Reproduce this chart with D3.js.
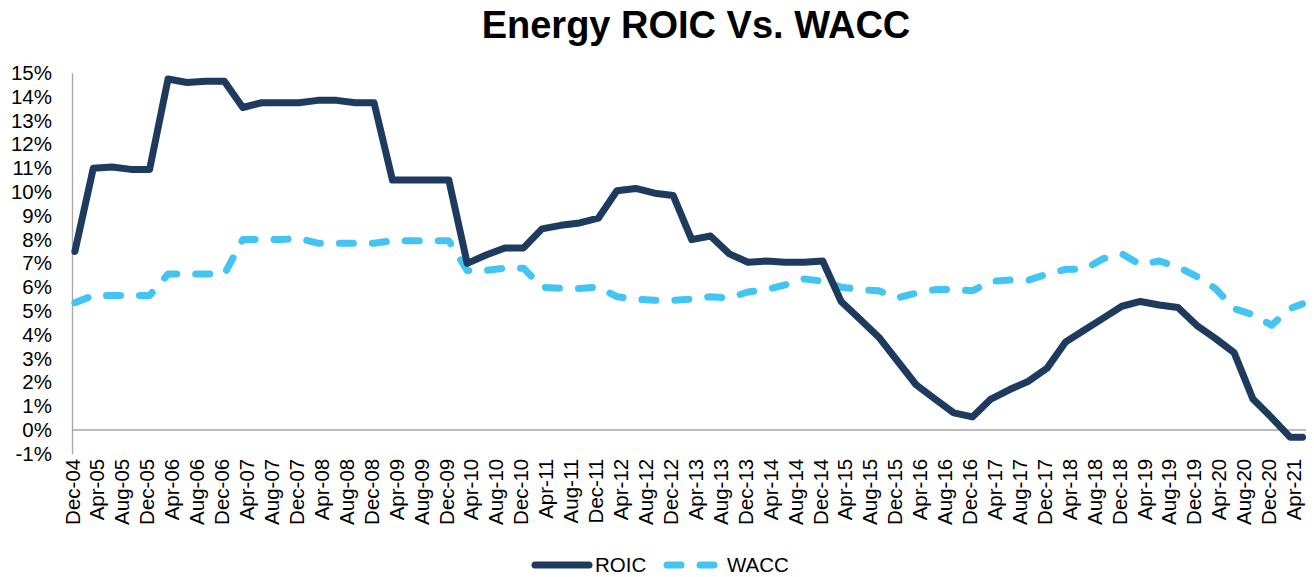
<!DOCTYPE html>
<html>
<head>
<meta charset="utf-8">
<script src="https://cdn.jsdelivr.net/npm/d3@7"></script>
<style>
  body { margin: 0; background: #fff; }
  svg { font-family: "Liberation Sans", Arial, sans-serif; display: block; }
</style>
</head>
<body>
<svg id="chart"></svg>
<script>
// quarterly observations (last one is the latest reading)
const dates = [
  "2004-12-15",
  "2005-03-15", "2005-06-15", "2005-09-15", "2005-12-15",
  "2006-03-15", "2006-06-15", "2006-09-15", "2006-12-15",
  "2007-03-15", "2007-06-15", "2007-09-15", "2007-12-15",
  "2008-03-15", "2008-06-15", "2008-09-15", "2008-12-15",
  "2009-03-15", "2009-06-15", "2009-09-15", "2009-12-15",
  "2010-03-15", "2010-06-15", "2010-09-15", "2010-12-15",
  "2011-03-15", "2011-06-15", "2011-09-15", "2011-12-15",
  "2012-03-15", "2012-06-15", "2012-09-15", "2012-12-15",
  "2013-03-15", "2013-06-15", "2013-09-15", "2013-12-15",
  "2014-03-15", "2014-06-15", "2014-09-15", "2014-12-15",
  "2015-03-15", "2015-06-15", "2015-09-15", "2015-12-15",
  "2016-03-15", "2016-06-15", "2016-09-15", "2016-12-15",
  "2017-03-15", "2017-06-15", "2017-09-15", "2017-12-15",
  "2018-03-15", "2018-06-15", "2018-09-15", "2018-12-15",
  "2019-03-15", "2019-06-15", "2019-09-15", "2019-12-15",
  "2020-03-15", "2020-06-15", "2020-09-15", "2020-12-15",
  "2021-03-15", "2021-05-15"
];

const roic = [
  7.5,
  11.0, 11.05, 10.95, 10.95,
  14.75, 14.6, 14.65, 14.65,
  13.55, 13.75, 13.75, 13.75,
  13.85, 13.85, 13.75, 13.75,
  10.5, 10.5, 10.5, 10.5,
  7.0, 7.35, 7.65, 7.65,
  8.45, 8.6, 8.7, 8.9,
  10.05, 10.15, 9.95, 9.85,
  8.0, 8.15, 7.4, 7.05,
  7.1, 7.05, 7.05, 7.1,
  5.4, 4.65, 3.9, 2.9,
  1.9, 1.3, 0.72, 0.55,
  1.3, 1.7, 2.05, 2.6,
  3.7, 4.2, 4.7, 5.2,
  5.4, 5.25, 5.15, 4.4,
  3.85, 3.25, 1.3, 0.52,
  -0.3, -0.3
];

const wacc = [
  5.35,
  5.65, 5.65, 5.65, 5.65,
  6.55, 6.55, 6.55, 6.55,
  8.0, 8.0, 8.0, 8.05,
  7.85, 7.85, 7.85, 7.85,
  7.95, 7.95, 7.95, 7.95,
  6.7, 6.7, 6.8, 6.8,
  6.0, 5.95, 5.95, 6.0,
  5.6, 5.5, 5.45, 5.45,
  5.5, 5.6, 5.55, 5.8,
  5.9, 6.1, 6.35, 6.25,
  6.0, 5.9, 5.85, 5.55,
  5.75, 5.9, 5.9, 5.85,
  6.25, 6.3, 6.3, 6.55,
  6.75, 6.75, 7.2, 7.4,
  6.95, 7.1, 6.85, 6.45,
  5.95, 5.1, 4.85, 4.4,
  5.1, 5.3
];

const tickLabels = [
  "Dec-04", "Apr-05", "Aug-05", "Dec-05", "Apr-06", "Aug-06", "Dec-06",
  "Apr-07", "Aug-07", "Dec-07", "Apr-08", "Aug-08", "Dec-08",
  "Apr-09", "Aug-09", "Dec-09", "Apr-10", "Aug-10", "Dec-10",
  "Apr-11", "Aug-11", "Dec-11", "Apr-12", "Aug-12", "Dec-12",
  "Apr-13", "Aug-13", "Dec-13", "Apr-14", "Aug-14", "Dec-14",
  "Apr-15", "Aug-15", "Dec-15", "Apr-16", "Aug-16", "Dec-16",
  "Apr-17", "Aug-17", "Dec-17", "Apr-18", "Aug-18", "Dec-18",
  "Apr-19", "Aug-19", "Dec-19", "Apr-20", "Aug-20", "Dec-20",
  "Apr-21"
];

const yTicks = [-1, 0, 1, 2, 3, 4, 5, 6, 7, 8, 9, 10, 11, 12, 13, 14, 15];

const seriesNames = ["ROIC", "WACC"];
const seriesColors = ["#1e3a5e", "#43c5f4"];

const width = 1314,
      height = 577,
      svg = d3.select("#chart")
              .attr("width", width)
              .attr("height", height);

const parseDay = d3.timeParse("%Y-%m-%d"),
      parseTick = d3.timeParse("%b-%y");

const x = d3.scaleTime()
    .domain([new Date(2004, 11, 1), new Date(2021, 5, 1)])
    .range([72, 1306]);

const y = d3.scaleLinear()
    .domain([-1, 15])
    .range([453.8, 73]);

const rows = dates.map((d, i) => ({ date: parseDay(d), roic: roic[i], wacc: wacc[i] }));

// title
svg.append("text")
    .attr("x", 696)
    .attr("y", 38)
    .attr("text-anchor", "middle")
    .style("font-size", "38px")
    .style("font-weight", "bold")
    .attr("fill", "#000")
    .text("Energy ROIC Vs. WACC");

// y axis
const yAxis = svg.append("g")
    .attr("transform", `translate(${x.range()[0]},0)`)
    .call(d3.axisLeft(y).tickValues(yTicks).tickSize(0).tickPadding(20)
        .tickFormat((d) => d + "%"));
yAxis.select(".domain").attr("stroke", "#a6a6a6").attr("stroke-width", 1.3);
yAxis.selectAll("text")
    .style("font-size", "20.5px")
    .attr("fill", "#000");

// zero line
svg.append("line")
    .attr("x1", x.range()[0])
    .attr("x2", x.range()[1])
    .attr("y1", y(0))
    .attr("y2", y(0))
    .attr("stroke", "#a6a6a6")
    .attr("stroke-width", 1.3);

// x axis labels (low position)
const xAxis = svg.append("g")
    .attr("transform", `translate(0,${y(-1)})`)
    .call(d3.axisBottom(x).tickValues(tickLabels.map(parseTick)).tickSize(0)
        .tickFormat(d3.timeFormat("%b-%y")));
xAxis.select(".domain").remove();
xAxis.selectAll("text")
    .style("font-size", "20.5px")
    .attr("fill", "#000")
    .attr("text-anchor", "end")
    .attr("transform", "rotate(-90)")
    .attr("x", -5)
    .attr("y", 0)
    .attr("dy", "0.35em");

const line = (key) => d3.line()
    .x((d) => x(d.date))
    .y((d) => y(d[key]));

svg.append("path")
    .datum(rows)
    .attr("d", line("wacc"))
    .attr("fill", "none")
    .attr("stroke", seriesColors[1])
    .attr("stroke-width", 7)
    .attr("stroke-linecap", "round")
    .attr("stroke-linejoin", "round")
    .attr("stroke-dasharray", "14,19");

svg.append("path")
    .datum(rows)
    .attr("d", line("roic"))
    .attr("fill", "none")
    .attr("stroke", seriesColors[0])
    .attr("stroke-width", 7)
    .attr("stroke-linecap", "round")
    .attr("stroke-linejoin", "round");

// legend
const legend = svg.append("g").attr("transform", "translate(0,565)");
const legendItems = [
  { x: 535, dash: null },
  { x: 667, dash: "14,19" }
];
legendItems.forEach((item, i) => {
  legend.append("line")
      .attr("x1", item.x)
      .attr("x2", item.x + 54)
      .attr("y1", 0)
      .attr("y2", 0)
      .attr("stroke", seriesColors[i])
      .attr("stroke-width", 7)
      .attr("stroke-linecap", "round")
      .attr("stroke-dasharray", item.dash);
  legend.append("text")
      .attr("x", item.x + 60)
      .attr("y", 0)
      .attr("dy", "0.36em")
      .style("font-size", "20.5px")
      .attr("fill", "#000")
      .text(seriesNames[i]);
});
</script>
</body>
</html>
